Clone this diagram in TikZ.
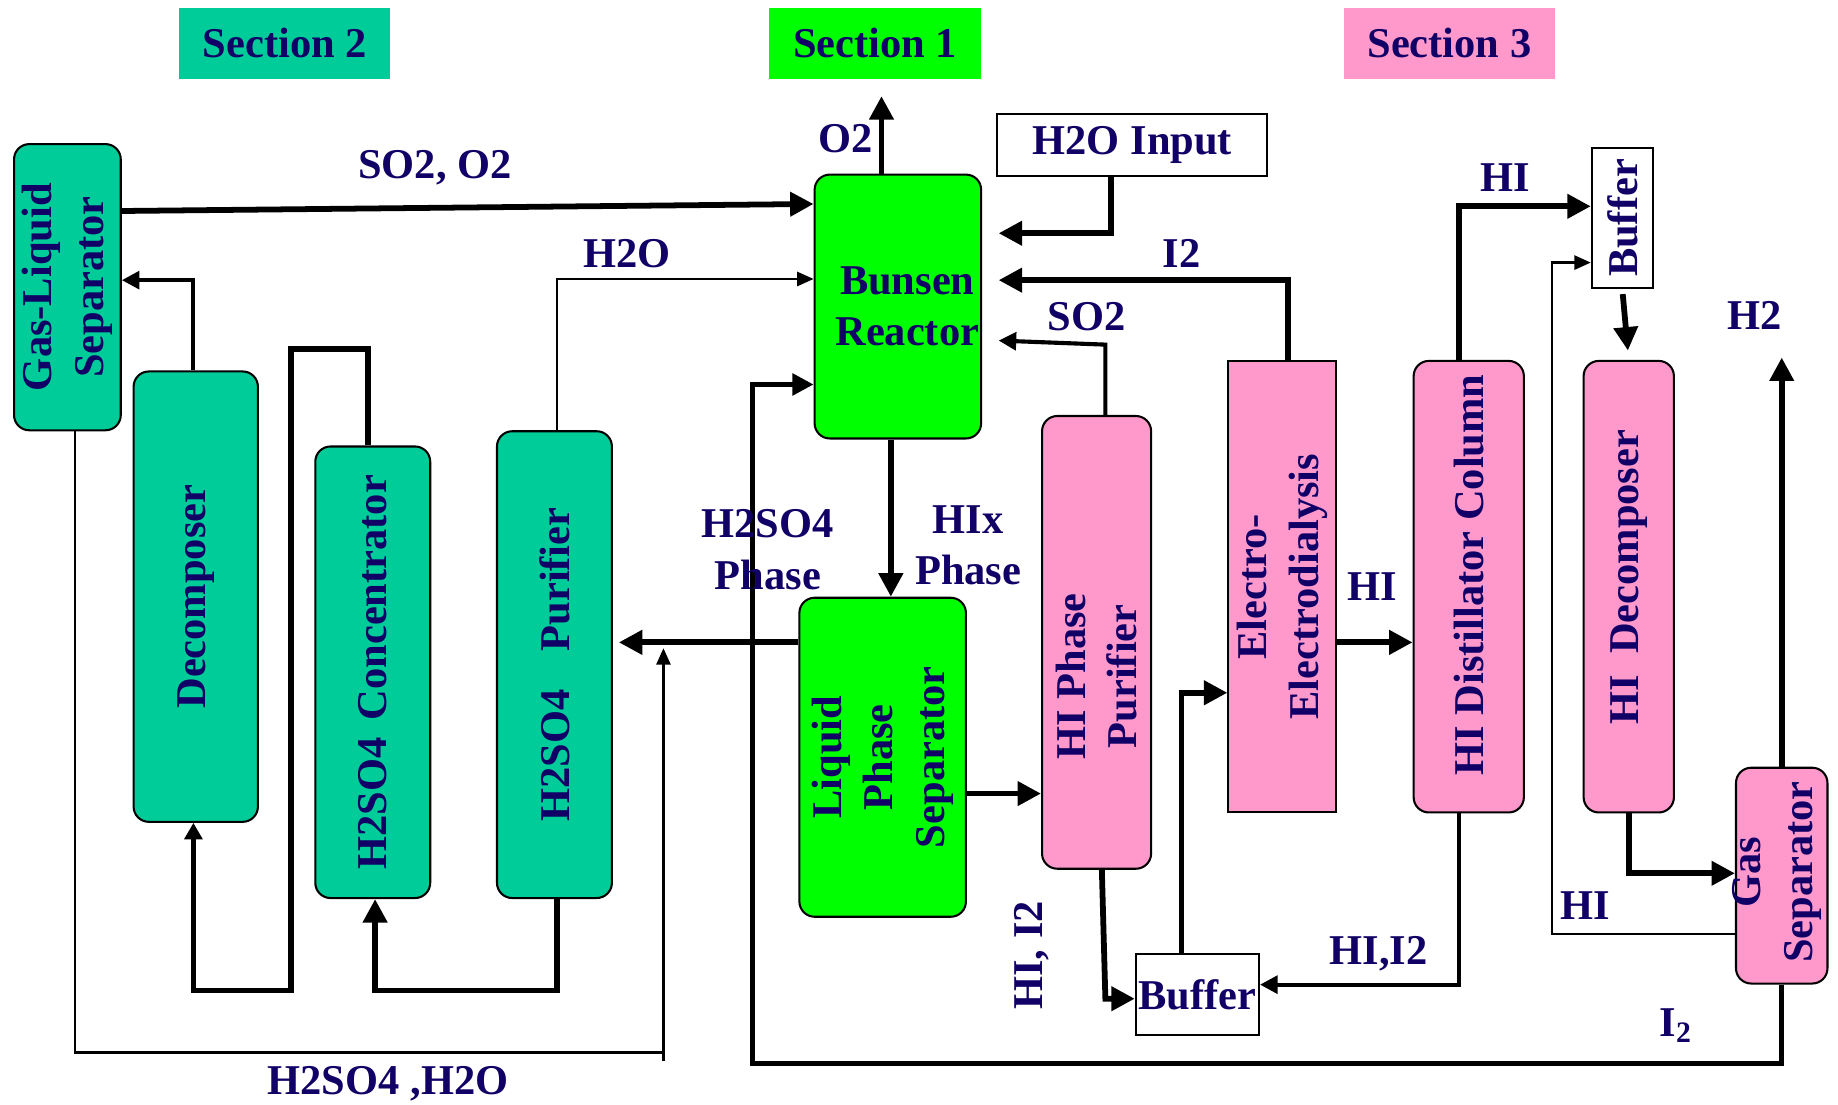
\documentclass[tikz,border=0pt]{standalone}
\usepackage{fontspec}
\setmainfont{Liberation Serif}
\usepackage{xcolor}
\usepackage{tikz}
\usetikzlibrary{arrows.meta,positioning,calc}
\definecolor{SIteal}{RGB}{0,204,153}
\definecolor{SIgreen}{RGB}{0,255,0}
\definecolor{SIpink}{RGB}{255,153,204}
\definecolor{SInavy}{RGB}{17,0,102}
\tikzstyle{ubox}   = [rectangle, rounded corners=1.3mm, draw=black, line width=0.5pt,
                      inner sep=0pt, align=center, text=SInavy]
\tikzstyle{Bsec1}  = [ubox, fill=SIgreen]
\tikzstyle{Bsec2}  = [ubox, fill=SIteal]
\tikzstyle{Bsec3}  = [ubox, fill=SIpink]
\tikzstyle{Bplain} = [ubox, sharp corners, fill=white]
\tikzstyle{Bhead}  = [rectangle, inner sep=0pt, text=SInavy,
                      minimum width=18mm, minimum height=6mm]
\tikzstyle{vtext}  = [rotate=90, align=center, inner sep=0pt, text=SInavy]
\tikzstyle{flowlbl}= [text=SInavy, inner sep=0pt, anchor=base]
\tikzstyle{fthick} = [line width=1.4pt, -{Triangle[length=2mm,width=2mm]}]
\tikzstyle{fmid}   = [line width=1pt, -{Triangle[length=1.5mm,width=1.5mm]}]
\tikzstyle{fthin}  = [line width=0.6pt, -{Triangle[length=1.4mm,width=1.2mm]}]

\begin{document}
\begin{tikzpicture}[x=0.01cm, y=-0.01cm, font=\fontsize{10.3}{12.5}\selectfont\bfseries]
  \useasboundingbox (0,0) rectangle (1568,942);

  % section headers
  \node[Bhead, fill=SIteal]  (sec2) at (243,37)    {Section 2};
  \node[Bhead, fill=SIgreen] (sec1) at (746.5,37)  {Section 1};
  \node[Bhead, fill=SIpink]  (sec3) at (1236.5,37) {Section 3};

  % section 2
  \node[Bsec2, minimum width=9.1mm,  minimum height=24.4mm] (gls)  at (57.5,245) {};
  \node[vtext] (gls-t) at (gls) {Gas-Liquid\\Separator};
  \node[Bsec2, minimum width=10.6mm, minimum height=38.4mm] (dec)  at (167,509) {};
  \node[vtext] (dec-t) at (dec) {Decomposer};
  \node[Bsec2, minimum width=9.8mm,  minimum height=38.5mm] (conc) at (318,573.5) {};
  \node[vtext] (conc-t) at (conc) {H2SO4\hspace{0.4em}Concentrator};
  \node[Bsec2, minimum width=9.8mm,  minimum height=39.8mm] (pur)  at (473,567) {};
  \node[vtext] (pur-t) at (pur) {H2SO4\hspace{0.9em}Purifier};

  % section 1
  \node[Bsec1, minimum width=14.2mm, minimum height=22.5mm] (bun) at (766,261.5)
    {\hspace*{1.6mm}Bunsen\\\hspace*{1.6mm}Reactor};
  \node[Bsec1, minimum width=14.2mm, minimum height=27.2mm] (lps) at (753,646) {};
  \node[vtext] (lps-t) at (lps) {Liquid\\Phase\\Separator};

  % section 3
  \node[Bsec3, minimum width=9.3mm, minimum height=38.6mm] (hipp) at (935.5,548) {};
  \node[vtext] (hipp-t) at ($(hipp)+(0,29)$) {HI Phase\\Purifier};
  \node[Bsec3, sharp corners, minimum width=9.2mm, minimum height=38.5mm] (edl) at (1094,500.5) {};
  \node[vtext] (edl-t) at (edl) {Electro-\\Electrodialysis};
  \node[Bsec3, minimum width=9.4mm, minimum height=38.5mm] (hidc) at (1253,500.5) {};
  \node[vtext] (hidc-t) at ($(hidc)+(0,-10)$) {HI Distillator Column};
  \node[Bsec3, minimum width=7.7mm, minimum height=38.5mm] (hidec) at (1389.5,500.5) {};
  \node[vtext] (hidec-t) at ($(hidec)+(0,-8)$) {HI\hspace{0.5em}Decomposer};
  \node[Bsec3, minimum width=7.8mm, minimum height=18.4mm] (gsep) at (1520,747) {};
  \node[vtext] (gsep-t) at ($(gsep)+(-4,-3)$) {Gas\\Separator};

  % plain boxes
  \node[Bplain, minimum width=23mm,  minimum height=5.3mm] (h2oin)  at (966,123.5) {H2O Input};
  \node[Bplain, minimum width=5.2mm, minimum height=12mm]  (buftop) at (1384,186) {};
  \node[vtext] (buftop-t) at (buftop) {Buffer};
  \node[Bplain, minimum width=10.5mm, minimum height=6.9mm] (bufbot) at (1021.5,848.5) {Buffer};

  \coordinate (o2out)   at (752,82);
  \coordinate (h2out)   at (1520,305);
  \coordinate (mergept) at (566,553);

  % section 2 and section 1 streams
  \draw[fthick] (gls.east |- 0,180) -- (bun.west |- 0,174);
  \draw[fthick] (bun.north -| 752,0) -- (o2out);
  \draw[fthick, shorten >=1.4mm] (h2oin.south -| 948,0) |- (bun.east |- 0,199);
  \draw[fthin] (pur.north -| 475,0) |- (bun.west |- 0,238);
  \draw[fmid] (dec.north -| 165,0) |- (gls.east |- 0,239);
  \draw[line width=1.4pt, -{Triangle[length=1.4mm,width=1.5mm]}]
    (conc.north -| 314,0) -- (314,298) -- (248,298) |- (165,845) -- (dec.south -| 165,0);
  \draw[fthick] (pur.south -| 475,0) |- (320,845) -- (conc.south -| 320,0);
  \draw[fthick, shorten >=0.5mm] (lps.west |- 0,548) -- (pur.east |- 0,548);
  \draw[line width=0.6pt] (gls.south -| 64,0) |- (mergept |- 0,898);
  \draw[fthin] (mergept |- 0,905) -- (mergept);
  \draw[fthick] (bun.south -| 760,0) -- (lps.north -| 760,0);
  \draw[fthick] (lps.east |- 0,677) -- (hipp.west |- 0,677);

  % section 3 streams
  \draw[fthick, shorten >=1.4mm] (edl.north -| 1099,0) |- (bun.east |- 0,239);
  \draw[fmid, shorten >=1.4mm] (hipp.north -| 943,0) -- (943,294) -- (bun.east |- 0,290);
  \draw[fthick] (hipp.south -| 940,0) -- (943,852) -- (bufbot.west |- 0,852);
  \draw[fthick] (bufbot.north -| 1008,0) |- (edl.west |- 0,591);
  \draw[fthick] (edl.east |- 0,548) -- (hidc.west |- 0,548);
  \draw[fmid] (hidc.south -| 1245,0) |- (bufbot.east |- 0,840);
  \draw[fthick] (hidc.north -| 1245,0) |- (buftop.west |- 0,176);
  \draw[fthin] (gsep.west |- 0,797) -| (1324,224) -- (buftop.west |- 0,224);
  \draw[fthick, shorten <=0.4mm, shorten >=0.8mm] (buftop.south) -- (hidec.north);
  \draw[fthick] (hidec.south) |- (gsep.west |- 0,745);
  \draw[fthick] (gsep.north) -- (h2out);
  \draw[line width=1.2pt, -{Triangle[length=1.8mm,width=1.8mm]}]
    (gsep.south) |- (642,907) |- (bun.west |- 0,328);

  % stream labels
  \node[flowlbl] (l-so2o2) at (371,152) {SO2, O2};
  \node[flowlbl] (l-o2)    at (721,130) {O2};
  \node[flowlbl] (l-h2o)   at (535,228) {H2O};
  \node[flowlbl] (l-i2)    at (1008,228) {I2};
  \node[flowlbl] (l-so2)   at (927,282) {SO2};
  \node[flowlbl] (l-hitop) at (1284,163) {HI};
  \node[flowlbl] (l-h2)    at (1497,281) {H2};
  \node[flowlbl, anchor=center, align=center] (l-h2so4) at (655,469) {H2SO4\\Phase};
  \node[flowlbl, anchor=center, align=center] (l-hix)   at (826,465) {HIx\\Phase};
  \node[flowlbl] (l-himid) at (1171,512) {HI};
  \node[flowlbl, rotate=90] (l-hii2) at (889,815) {HI, I2};
  \node[flowlbl] (l-hii2b) at (1176,823) {HI,I2};
  \node[flowlbl] (l-hilow) at (1352,784) {HI};
  \node[flowlbl] (l-i2b)   at (1430,884) {I\textsubscript{2}};
  \node[flowlbl] (l-acid)  at (331,934) {H2SO4 ,H2O};
\end{tikzpicture}
\end{document}
